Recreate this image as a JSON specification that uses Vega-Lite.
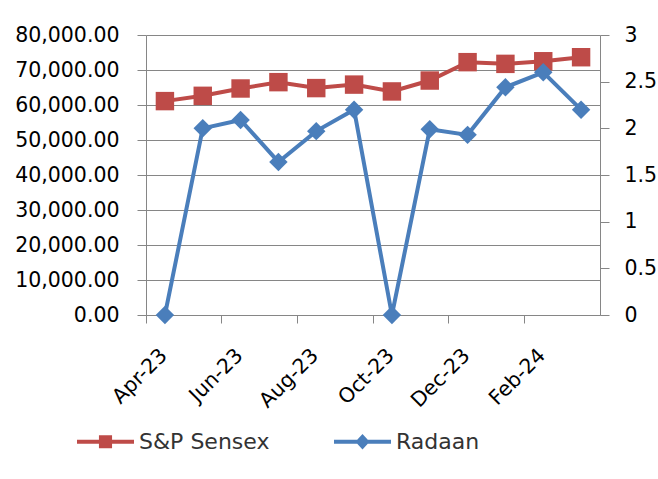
{
  "$schema": "https://vega.github.io/schema/vega-lite/v6.json",
  "autosize": "none",
  "width": 454,
  "height": 280,
  "padding": {"left": 146, "top": 35, "right": 58, "bottom": 164},
  "background": "white",
  "config": {
    "view": {"stroke": null},
    "font": "DejaVu Sans",
    "axis": {"labelFont": "DejaVu Sans", "labelFontSize": 20.5, "labelColor": "#000000", "domainColor": "#868686", "tickColor": "#868686", "gridColor": "#868686", "domainWidth": 1, "tickWidth": 1, "gridWidth": 1, "title": null}
  },
  "data": {
    "values": [
      {"month": "Apr-23", "sensex": 61112, "radaan": 0},
      {"month": "May-23", "sensex": 62622, "radaan": 2.0},
      {"month": "Jun-23", "sensex": 64718, "radaan": 2.09},
      {"month": "Jul-23", "sensex": 66527, "radaan": 1.64},
      {"month": "Aug-23", "sensex": 64831, "radaan": 1.97},
      {"month": "Sep-23", "sensex": 65828, "radaan": 2.2},
      {"month": "Oct-23", "sensex": 63875, "radaan": 0},
      {"month": "Nov-23", "sensex": 66988, "radaan": 1.99},
      {"month": "Dec-23", "sensex": 72240, "radaan": 1.93},
      {"month": "Jan-24", "sensex": 71752, "radaan": 2.44},
      {"month": "Feb-24", "sensex": 72500, "radaan": 2.6},
      {"month": "Mar-24", "sensex": 73651, "radaan": 2.2}
    ]
  },
  "encoding": {
    "x": {
      "field": "month", "type": "nominal", "sort": null,
      "scale": {"type": "band", "paddingInner": 0, "paddingOuter": 0},
      "axis": {
        "values": ["Apr-23", "Jun-23", "Aug-23", "Oct-23", "Dec-23", "Feb-24"],
        "bandPosition": 0,
        "labelOffset": -8,
        "labelAngle": -45,
        "labelAlign": "right",
        "labelBaseline": "top",
        "tickSize": 8,
        "labelPadding": 22,
        "grid": false
      }
    }
  },
  "layer": [
    {
      "encoding": {
        "y": {
          "field": "sensex", "type": "quantitative",
          "scale": {"domain": [0, 80000], "nice": false},
          "axis": {"orient": "left", "values": [0, 10000, 20000, 30000, 40000, 50000, 60000, 70000, 80000], "format": ",.2f", "grid": true, "tickSize": 9, "labelPadding": 18}
        }
      },
      "layer": [
        {
          "mark": {"type": "line", "color": "#be4b48", "strokeWidth": 4},
          "encoding": {
            "color": {
              "datum": "S&P Sensex",
              "type": "nominal",
              "scale": {"domain": ["S&P Sensex", "Radaan"], "range": ["#be4b48", "#4a7ebb"]},
              "legend": {
                "title": null,
                "orient": "none",
                "legendX": -69,
                "legendY": 378,
                "direction": "horizontal",
                "padding": 0,
                "symbolSize": 3249,
                "symbolStrokeWidth": 0,
                "labelFont": "DejaVu Sans",
                "labelFontSize": 22,
                "labelColor": "#333333",
                "labelOffset": 5,
                "columnPadding": 64,
                "encode": {
                  "symbols": {
                    "update": {
                      "shape": {"signal": "datum.value === 'Radaan' ? 'M-1,-0.07L1,-0.07L1,0.07L-1,0.07Z M0,-0.27L0.25,0L0,0.27L-0.25,0Z' : 'M-1,-0.07L1,-0.07L1,0.07L-1,0.07Z M-0.23,-0.23L0.23,-0.23L0.23,0.23L-0.23,0.23Z'"},
                      "fill": {"signal": "datum.value === 'Radaan' ? '#4a7ebb' : '#be4b48'"},
                      "fillOpacity": {"value": 1},
                      "strokeWidth": {"value": 0}
                    }
                  }
                }
              }
            }
          }
        },
        {
          "mark": {"type": "point", "shape": "square", "filled": true, "size": 340, "color": "#be4b48", "opacity": 1}
        }
      ]
    },
    {
      "encoding": {
        "y": {
          "field": "radaan", "type": "quantitative",
          "scale": {"domain": [0, 3], "nice": false},
          "axis": {"orient": "right", "values": [0, 0.5, 1, 1.5, 2, 2.5, 3], "format": "~g", "grid": false, "tickSize": 9, "labelPadding": 15}
        }
      },
      "layer": [
        {
          "mark": {"type": "line", "color": "#4a7ebb", "strokeWidth": 4},
          "encoding": {"color": {"datum": "Radaan", "type": "nominal"}}
        },
        {
          "mark": {"type": "point", "shape": "diamond", "filled": true, "size": 340, "color": "#4a7ebb", "opacity": 1}
        }
      ]
    }
  ],
  "resolve": {"scale": {"y": "independent"}}
}
